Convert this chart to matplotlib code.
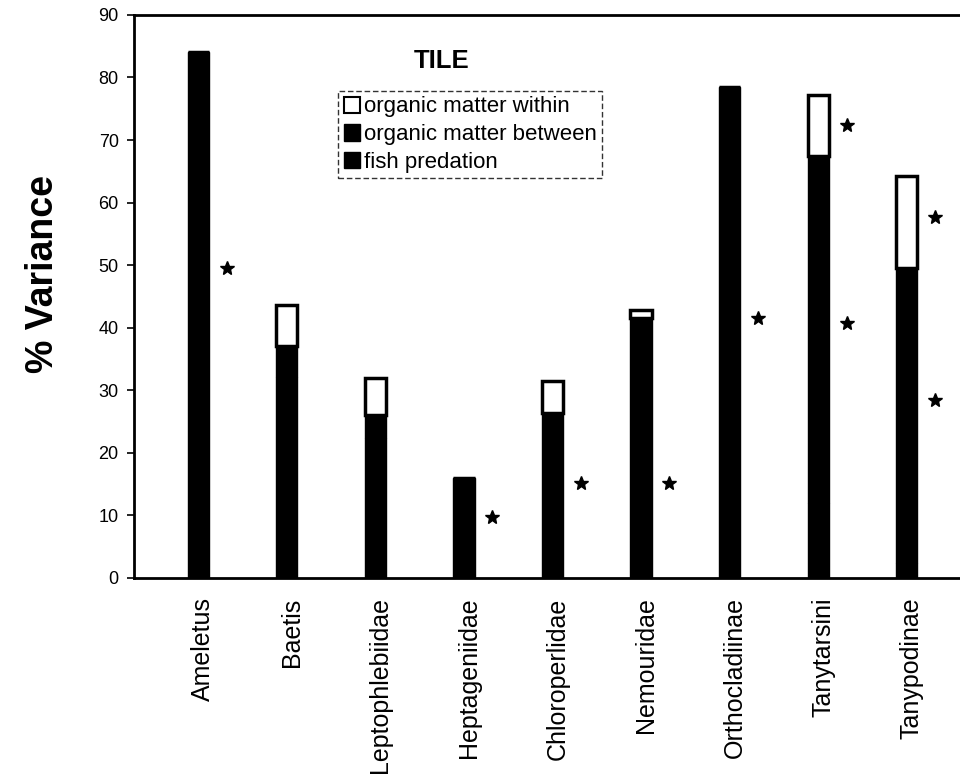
import numpy as np
import matplotlib
matplotlib.use("Agg")
from matplotlib import pyplot as plt
from matplotlib.patches import Patch
from matplotlib.transforms import ScaledTranslation

# Data
taxa = ["Ameletus", "Baetis", "Leptophlebiidae", "Heptageniidae", "Chloroperlidae",
        "Nemouridae", "Orthocladiinae", "Tanytarsini", "Tanypodinae"]
fish_predation = [84.1, 32.2, 22.4, 16.0, 26.4, 41.6, 78.5, 12.0, 2.4]
om_between = [0.0, 4.8, 3.7, 0.0, 0.0, 0.0, 0.0, 55.4, 47.1]
om_within = [0.0, 6.7, 5.9, 0.0, 5.1, 1.2, 0.0, 9.8, 14.7]

# significance stars: (category index, % variance)
star_idx = [0, 3, 4, 5, 6, 7, 7, 8, 8]
star_val = [49.6, 9.8, 15.2, 15.2, 41.6, 72.4, 40.7, 57.7, 28.5]

plt.rcParams["font.family"] = ["Liberation Sans", "DejaVu Sans"]

fig = plt.figure(figsize=(9.6, 7.84), dpi=100)
ax = fig.add_axes([0.1396, 0.2628, 0.8604, 0.7182])

x = np.arange(len(taxa))
w = 0.24
fish = np.array(fish_predation)
betw = np.array(om_between)
within = np.array(om_within)

ax.bar(x, fish, w, color="black", edgecolor="black", linewidth=1)
ax.bar(x, betw, w, bottom=fish, color="black", edgecolor="black", linewidth=1)
ax.bar(x, within, w, bottom=fish + betw, color="white", edgecolor="black", linewidth=2.5)

ax.plot(np.array(star_idx) + 0.32, star_val, linestyle="none", marker="*",
        markersize=10, color="black")

ax.set_xlim(-0.724, 8.6)
ax.set_ylim(0, 90)
ax.set_yticks(np.arange(0, 91, 10))
ax.tick_params(axis="y", direction="out", length=5, width=1.2, labelsize=13, pad=6)
ax.set_xticks(x)
ax.set_xticklabels(taxa, rotation=90, fontsize=18)
ax.tick_params(axis="x", length=0, pad=14)
# category labels sit a few pixels right of the bar centres in the original
shift = ScaledTranslation(5 / 100, 0, fig.dpi_scale_trans)
for lbl in ax.get_xticklabels():
    lbl.set_transform(lbl.get_transform() + shift)

for s in ["left", "bottom", "top"]:
    ax.spines[s].set_linewidth(2)
ax.spines["right"].set_visible(False)

ax.set_ylabel("% Variance", fontsize=27, fontweight="bold")
ax.yaxis.set_label_coords(-0.089, 0.54)

ax.text(2.75, 82.6, "TILE", fontsize=18.5, fontweight="bold", ha="center", va="center")

handles = [Patch(facecolor="white", edgecolor="black", linewidth=1.5),
           Patch(facecolor="black", edgecolor="black"),
           Patch(facecolor="black", edgecolor="black")]
labels = ["organic matter within", "organic matter between", "fish predation"]
leg = ax.legend(handles, labels, loc="upper left", bbox_to_anchor=(0.247, 0.865),
                fontsize=16, frameon=True, fancybox=False, handlelength=0.75,
                handleheight=0.75, handletextpad=0.15, borderpad=0.25, labelspacing=0.3,
                borderaxespad=0)
leg.get_frame().set_edgecolor("black")
leg.get_frame().set_linestyle((0, (4, 2)))
leg.get_frame().set_linewidth(1)

fig.savefig("out.png", dpi=100)
